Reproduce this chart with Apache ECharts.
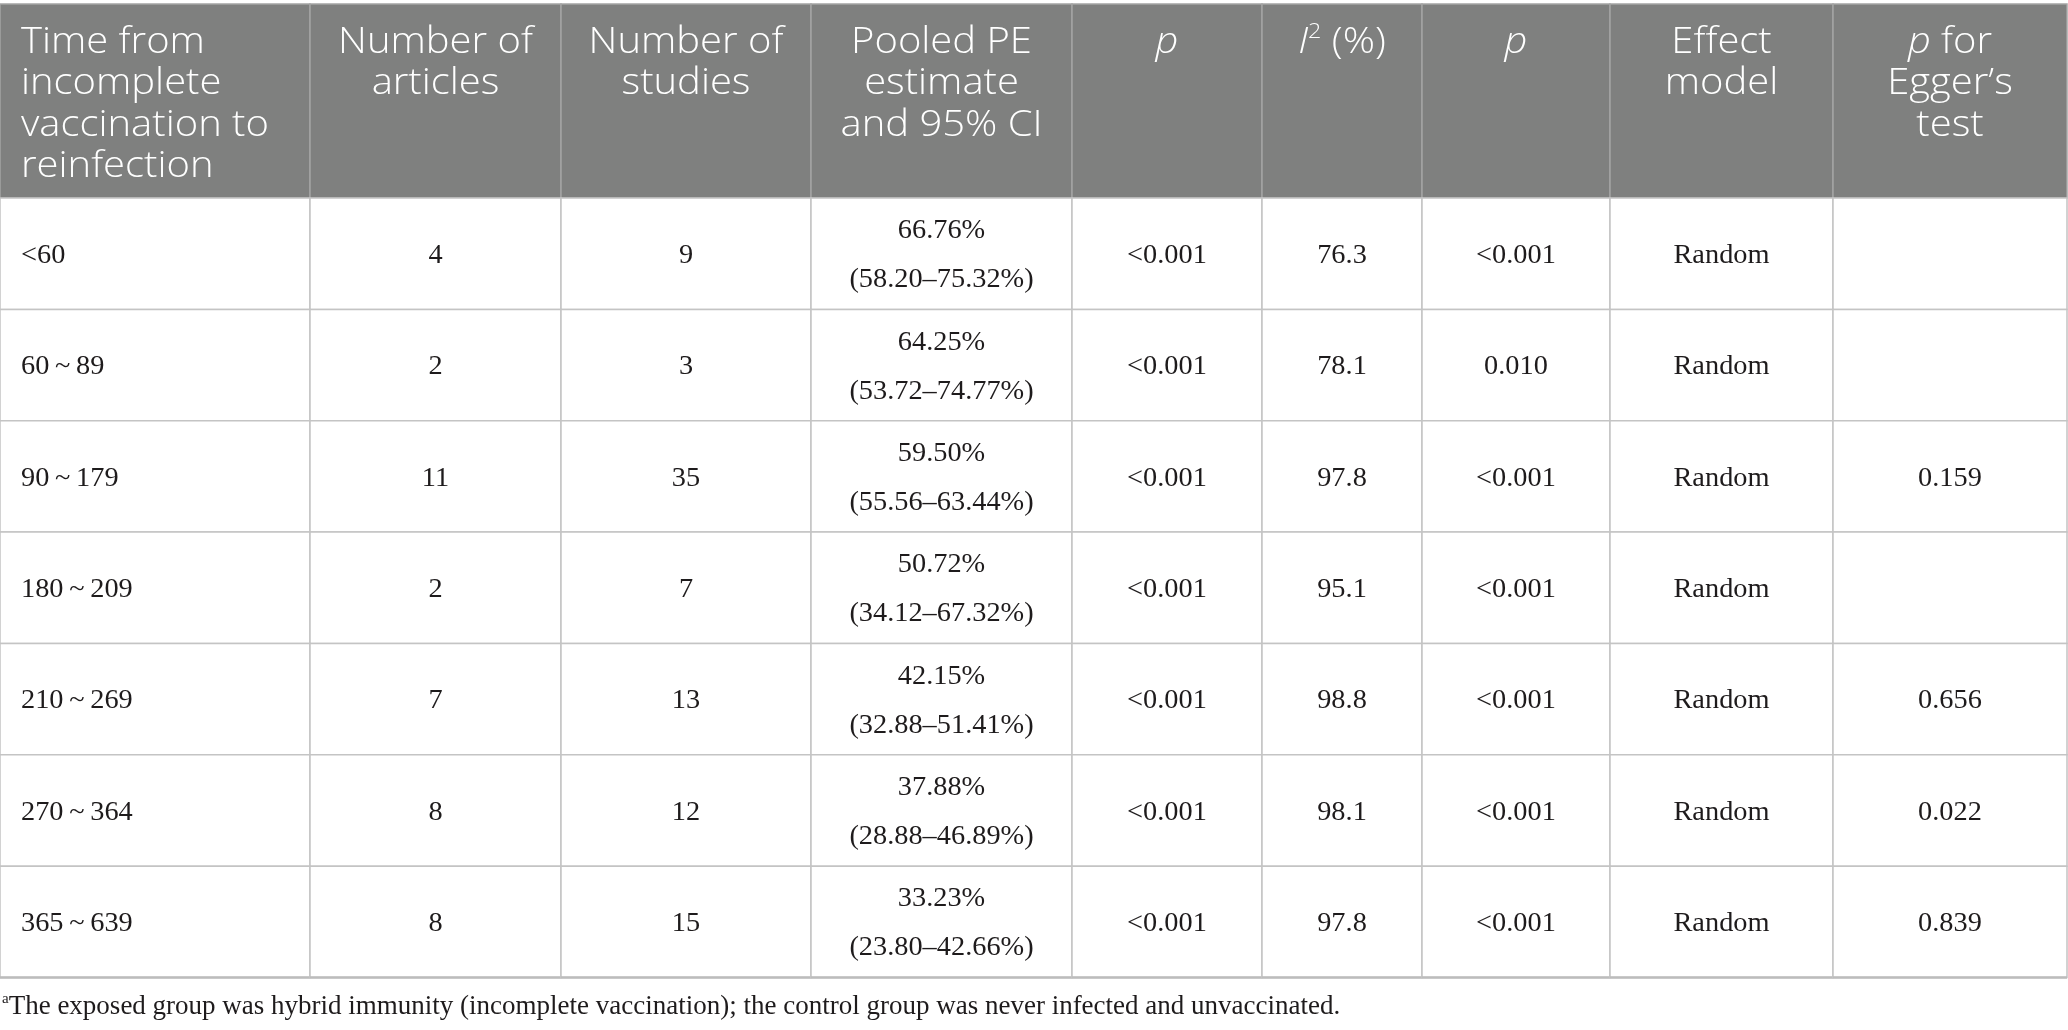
<!DOCTYPE html>
<html>
<head>
<meta charset="utf-8">
<script src="https://cdn.jsdelivr.net/npm/echarts@6/dist/echarts.min.js"></script>
<style>
  html, body { margin: 0; padding: 0; background: #fff; }
  #main { width: 2068px; height: 1030px; }
</style>
</head>
<body>
<div id="main"></div>
<script>
// table values
const timeGroups = ['<60', '60\u2009~\u200989', '90\u2009~\u2009179', '180\u2009~\u2009209', '210\u2009~\u2009269', '270\u2009~\u2009364', '365\u2009~\u2009639'];
const articles = [4, 2, 11, 2, 7, 8, 8];
const studies = [9, 3, 35, 7, 13, 12, 15];
const pooledPE = ['66.76', '64.25', '59.50', '50.72', '42.15', '37.88', '33.23'];
const ciLow = ['58.20', '53.72', '55.56', '34.12', '32.88', '28.88', '23.80'];
const ciHigh = ['75.32', '74.77', '63.44', '67.32', '51.41', '46.89', '42.66'];
const pPooled = ['<0.001', '<0.001', '<0.001', '<0.001', '<0.001', '<0.001', '<0.001'];
const i2 = ['76.3', '78.1', '97.8', '95.1', '98.8', '98.1', '97.8'];
const pHetero = ['<0.001', '0.010', '<0.001', '<0.001', '<0.001', '<0.001', '<0.001'];
const effectModel = ['Random', 'Random', 'Random', 'Random', 'Random', 'Random', 'Random'];
const pEgger = ['', '', '0.159', '', '0.656', '0.022', '0.839'];

const headers = [
  'Time from\nincomplete\nvaccination to\nreinfection',
  'Number of\narticles',
  'Number of\nstudies',
  'Pooled PE\nestimate\nand 95% CI',
  '{i|p}',
  '{i|I}{sup|2}{n| (%)}',
  '{i|p}',
  'Effect\nmodel',
  '{i|p}{n| for}\nEgger\u2019s\ntest'
];
const footnote = '{sup|a}The exposed group was hybrid immunity (incomplete vaccination); the control group was never infected and unvaccinated.';

// layout (not data)
const colEdges = [0, 310, 561, 811, 1072, 1262, 1422, 1610, 1833, 2067];
const HEAD = 1.743; // header height, in body-row units

const HEAD_FONT = '"Open Sans", "Noto Sans", sans-serif';
const BODY_FONT = '"Liberation Serif", "DejaVu Serif", serif';

function cellText(c, r) {
  switch (c) {
    case 0: return timeGroups[r];
    case 1: return String(articles[r]);
    case 2: return String(studies[r]);
    case 3: return pooledPE[r] + '%\n(' + ciLow[r] + '\u2013' + ciHigh[r] + '%)';
    case 4: return pPooled[r];
    case 5: return i2[r];
    case 6: return pHetero[r];
    case 7: return effectModel[r];
    case 8: return pEgger[r];
  }
  return '';
}

const cells = [];
for (let r = -1; r < timeGroups.length; r++) {
  for (let c = 0; c < headers.length; c++) cells.push([c, r]);
}

const headRich = {
  n: { fontFamily: HEAD_FONT, fontSize: 36, fontWeight: 300, fill: '#fff', lineHeight: 41.3 },
  i: { fontFamily: HEAD_FONT, fontSize: 36, fontWeight: 300, fontStyle: 'italic', fill: '#fff', lineHeight: 41.3 },
  sup: { fontFamily: HEAD_FONT, fontSize: 21, fontWeight: 300, fontStyle: 'normal', fill: '#fff', lineHeight: 27, verticalAlign: 'top' }
};

function renderCell(params, api) {
  const c = api.value(0);
  const r = api.value(1);
  const head = r < 0;
  const p0 = api.coord([colEdges[c], head ? -HEAD : r]);
  const p1 = api.coord([colEdges[c + 1], head ? 0 : r + 1]);
  const x0 = p0[0], y0 = p0[1];
  const w = p1[0] - p0[0], h = p1[1] - p0[1];

  const kids = [{
    type: 'rect',
    shape: { x: x0, y: y0, width: w, height: h },
    style: { fill: head ? '#7f807f' : '#fff', stroke: head ? '#a4a4a4' : '#c4c4c4', lineWidth: 1.5 }
  }];

  if (head) {
    kids.push({
      type: 'text',
      x: c === 0 ? x0 + 21 : x0 + w / 2,
      y: y0 + 18,
      scaleX: 1.11,
      style: {
        text: headers[c],
        rich: headRich,
        fontFamily: HEAD_FONT,
        fontSize: 36,
        fontWeight: 300,
        fill: '#fff',
        lineHeight: 41.3,
        align: c === 0 ? 'left' : 'center',
        verticalAlign: 'top'
      }
    });
  } else {
    kids.push({
      type: 'text',
      x: c === 0 ? x0 + 21 : x0 + w / 2,
      y: y0 + h / 2 + 2,
      scaleX: 1.05,
      style: {
        text: cellText(c, r),
        fontFamily: BODY_FONT,
        fontSize: 27,
        fill: '#1e1b1c',
        lineHeight: 49,
        align: c === 0 ? 'left' : 'center',
        verticalAlign: 'middle'
      }
    });
    if (r === timeGroups.length - 1) {
      kids.push({
        type: 'line',
        shape: { x1: x0, y1: y0 + h, x2: x0 + w, y2: y0 + h },
        style: { stroke: '#bcbcbc', lineWidth: 2.5 }
      });
    }
  }
  return { type: 'group', children: kids };
}

const chart = echarts.init(document.getElementById('main'), null, { renderer: 'canvas' });

chart.setOption({
  backgroundColor: '#fff',
  animation: false,
  grid: { left: 0, right: 0, top: 4, bottom: 52.5 },
  xAxis: { type: 'value', min: 0, max: 2068, show: false },
  yAxis: { type: 'value', min: -HEAD, max: timeGroups.length, inverse: true, show: false },
  series: [{
    type: 'custom',
    renderItem: renderCell,
    data: cells,
    silent: true
  }],
  graphic: [{
    type: 'text',
    left: 2,
    top: 992,
    style: {
      text: footnote,
      fontFamily: BODY_FONT,
      fontSize: 27,
      fill: '#1e1b1c',
      lineHeight: 29,
      rich: {
        sup: { fontFamily: BODY_FONT, fontSize: 15, fill: '#1e1b1c', lineHeight: 14, verticalAlign: 'top' }
      }
    }
  }]
});
</script>
</body>
</html>
